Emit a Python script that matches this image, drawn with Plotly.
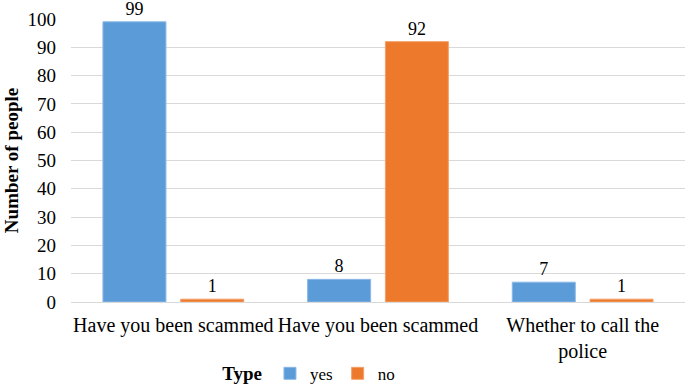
import plotly.graph_objects as go

categories = ["Have you been scammed", "Have you been scammed", "Whether to call the<br>police"]
positions = [0, 1, 2]
yes_values = [99, 8, 7]
no_values = [1, 92, 1]
y_ticks = [0, 10, 20, 30, 40, 50, 60, 70, 80, 90, 100]

FONT = "Times New Roman, Liberation Serif, DejaVu Serif, serif"

fig = go.Figure()
fig.add_trace(go.Bar(
    x=positions, y=yes_values, name="yes",
    marker=dict(color="#5a9bd8", line=dict(color="#8ab8e6", width=1)),
    text=yes_values, textposition="outside", cliponaxis=False,
    textfont=dict(family=FONT, size=18, color="#000000"),
))
fig.add_trace(go.Bar(
    x=positions, y=no_values, name="no",
    marker=dict(color="#ed7a2c", line=dict(color="#f3a06a", width=1)),
    text=no_values, textposition="outside", cliponaxis=False,
    textfont=dict(family=FONT, size=18, color="#000000"),
))

fig.update_layout(
    width=685, height=387,
    margin=dict(l=71, r=0, t=19, b=85, autoexpand=False),
    paper_bgcolor="white", plot_bgcolor="white",
    font=dict(family=FONT, size=18, color="#000000"),
    barmode="group", bargap=0.24, bargroupgap=0.19,
    showlegend=True,
    legend=dict(
        orientation="h", x=0.243, xanchor="left", y=-0.19, yanchor="top",
        title=dict(text="<b>Type</b>", font=dict(family=FONT, size=19)),
        font=dict(family=FONT, size=17),
        itemwidth=30, tracegroupgap=0,
    ),
    xaxis=dict(
        tickmode="array", tickvals=positions, ticktext=categories,
        range=[-0.5, 2.5], showgrid=False, zeroline=False,
        showline=True, linecolor="#d9d9d9", linewidth=1, ticks="",
        tickfont=dict(family=FONT, size=20), ticklabelstandoff=5,
    ),
    yaxis=dict(
        range=[0, 100], tickvals=y_ticks, showgrid=True, gridcolor="#d9d9d9",
        zeroline=False, ticks="", tickfont=dict(family=FONT, size=19),
        ticklabelstandoff=14,
        title=dict(text="<b>Number of people</b>", font=dict(family=FONT, size=19), standoff=3),
    ),
)

fig.write_html(
    "out.html",
    config={"displayModeBar": False},
    post_script="document.body.style.margin='0';document.body.style.padding='0';document.body.style.overflow='hidden';",
)
